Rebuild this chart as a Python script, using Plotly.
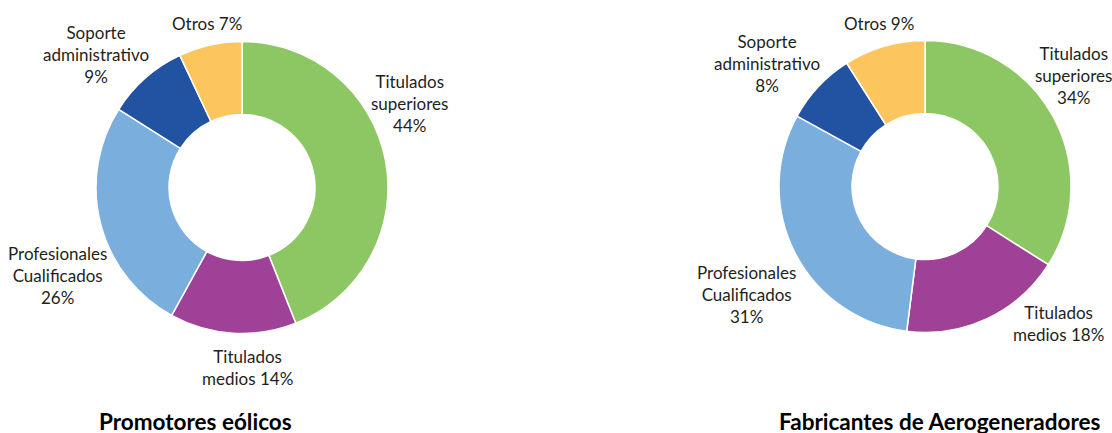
import plotly.graph_objects as go

W, H = 1112, 433

categorias = ["Titulados superiores", "Titulados medios", "Profesionales Cualificados",
              "Soporte administrativo", "Otros"]
colores = ["#8DC764", "#9F4196", "#7AAEDD", "#2253A3", "#FDC55E"]

promotores = [44, 14, 26, 9, 7]
fabricantes = [34, 18, 31, 8, 9]

titulos = ["Promotores eólicos", "Fabricantes de Aerogeneradores"]

# label text per slice: (text with {p} for percent)
plantillas = ["Titulados<br>superiores<br>{p}%", "Titulados<br>medios {p}%",
              "Profesionales<br>Cualificados<br>{p}%", "Soporte<br>administrativo<br>{p}%",
              "Otros {p}%"]

# pixel positions of the labels (center x, center y)
pos_izq = [(409, 104), (247, 367), (57, 275), (96, 54), (207, 23)]
pos_der = [(1073, 76), (1058, 323), (746, 294), (767, 63), (879, 24)]


def px(x, y):
    return x / W, 1 - y / H


def dominio(cx, cy, r):
    return dict(x=[(cx - r) / W, (cx + r) / W], y=[1 - (cy + r) / H, 1 - (cy - r) / H])


fig = go.Figure()

for vals, (cx, cy) in [(promotores, (242, 187.5)), (fabricantes, (925, 186.5))]:
    fig.add_trace(go.Pie(
        labels=categorias, values=vals, hole=0.5, sort=False, direction="clockwise",
        rotation=0, textinfo="none", hoverinfo="label+percent",
        marker=dict(colors=colores, line=dict(color="white", width=1.5)),
        domain=dominio(cx, cy, 146), showlegend=False,
    ))

anots = []
for vals, posiciones in [(promotores, pos_izq), (fabricantes, pos_der)]:
    for plantilla, v, (x, y) in zip(plantillas, vals, posiciones):
        xp, yp = px(x, y)
        anots.append(dict(x=xp, y=yp, xref="paper", yref="paper", text=plantilla.format(p=v),
                          showarrow=False, xanchor="center", yanchor="middle", align="center",
                          font=dict(size=17, color="#231F20")))

xp, yp = px(195, 421)
anots.append(dict(x=xp, y=yp, xref="paper", yref="paper", text="<b>" + titulos[0] + "</b>",
                  showarrow=False, xanchor="center", yanchor="middle",
                  font=dict(size=22.5, color="#000000")))
xp, yp = px(777, 421)
anots.append(dict(x=xp, y=yp, xref="paper", yref="paper", text="<b>" + titulos[1] + "</b>",
                  showarrow=False, xanchor="left", yanchor="middle",
                  font=dict(size=22.5, color="#000000")))

fig.update_layout(
    width=W, height=H, margin=dict(l=0, r=0, t=0, b=0),
    paper_bgcolor="white", plot_bgcolor="white",
    font=dict(family="Lato, Noto Sans, sans-serif"),
    annotations=anots,
)

fig.write_html("out.html", config={"displayModeBar": False},
               post_script="document.body.style.margin='0';document.body.style.overflow='hidden';")
